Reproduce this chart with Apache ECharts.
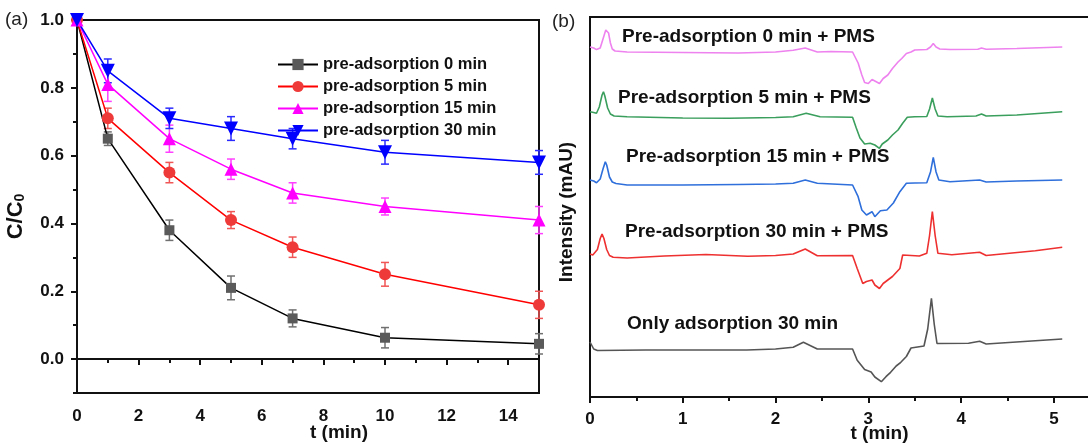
<!DOCTYPE html>
<html>
<head>
<meta charset="utf-8">
<title>Pre-adsorption</title>
<script src="https://cdn.jsdelivr.net/npm/echarts@6/dist/echarts.min.js"></script>
<style>
  html, body { margin: 0; padding: 0; background: #fff; }
  .echart_1 { width: 1088px; height: 448px; }
</style>
</head>
<body>
<div class="echart_1"></div>
<script>
// (a) C/C0 vs time
var times = [0, 1, 3, 5, 7, 10, 15];
var seriesNames = ['pre-adsorption 0 min', 'pre-adsorption 5 min', 'pre-adsorption 15 min', 'pre-adsorption 30 min'];
var pre0 = [1.0, 0.65, 0.38, 0.21, 0.12, 0.063, 0.045];
var pre0Err = [0, 0.02, 0.03, 0.035, 0.025, 0.03, 0.03];
var pre5 = [1.0, 0.71, 0.55, 0.41, 0.33, 0.25, 0.16];
var pre5Err = [0, 0.03, 0.03, 0.025, 0.03, 0.035, 0.04];
var pre15 = [1.0, 0.81, 0.65, 0.56, 0.49, 0.45, 0.41];
var pre15Err = [0, 0.05, 0.04, 0.03, 0.03, 0.025, 0.04];
var pre30 = [1.0, 0.85, 0.71, 0.68, 0.65, 0.61, 0.58];
var pre30Err = [0, 0.035, 0.03, 0.035, 0.03, 0.035, 0.035];

var aXTicks = [0, 2, 4, 6, 8, 10, 12, 14];
var aXMinor = [1, 3, 5, 7, 9, 11, 13, 15];
var aYTicks = [0, 0.2, 0.4, 0.6, 0.8, 1.0];
var aYMinor = [-0.1, 0.1, 0.3, 0.5, 0.7, 0.9];

// (b) chromatograms: [t (min), signal above own baseline]
var traceNames = ['Pre-adsorption 0 min + PMS', 'Pre-adsorption 5 min + PMS', 'Pre-adsorption 15 min + PMS', 'Pre-adsorption 30 min + PMS', 'Only adsorption 30 min'];
var traceOffsets = [345, 280, 213, 141.5, 48];
var trace0 = [[0, 5], [0.04, 4], [0.07, 2.4], [0.11, 4], [0.14, 13], [0.17, 22], [0.185, 23.4], [0.2, 19], [0.22, 9], [0.24, 3], [0.27, 1], [0.4, 0], [1.0, -0.5], [1.6, -1], [2.0, 0], [2.19, 1.7], [2.32, 4], [2.45, 0], [2.6, 0.5], [2.83, 0], [2.89, -11], [2.93, -23], [2.96, -30.5], [3.0, -31.5], [3.04, -27.5], [3.09, -30], [3.12, -31.5], [3.16, -26.5], [3.21, -23], [3.26, -16.5], [3.32, -10], [3.36, -6.5], [3.41, -1.5], [3.46, 0], [3.5, 2], [3.63, 2.5], [3.67, 5], [3.7, 8.4], [3.73, 5], [3.77, 3], [3.88, 2.5], [4.18, 2.7], [4.22, 4], [4.27, 2.7], [4.6, 3.5], [5.09, 5]];
var trace5 = [[0, 5.3], [0.04, 4.5], [0.07, 3.7], [0.1, 10], [0.13, 22], [0.145, 25.3], [0.16, 21], [0.19, 9], [0.22, 3], [0.26, 1], [0.4, 0.3], [1.0, -1], [1.5, -1.3], [2.0, -0.5], [2.19, 0.3], [2.33, 3.7], [2.48, 0.3], [2.83, -0.3], [2.87, -11], [2.91, -21], [2.96, -27], [3.02, -26.3], [3.07, -28], [3.12, -31.3], [3.15, -27], [3.21, -23], [3.26, -18], [3.32, -13], [3.37, -6.3], [3.42, -0.3], [3.5, 0.3], [3.63, 0.5], [3.66, 8], [3.69, 19], [3.72, 8], [3.75, 1], [3.85, 0.3], [4.16, 1], [4.22, 3], [4.27, 1], [4.6, 2], [5.09, 5.3]];
var trace15 = [[0, 4], [0.04, 3], [0.07, 1.3], [0.11, 5], [0.14, 15], [0.165, 22.3], [0.18, 19], [0.21, 7], [0.24, 2], [0.28, 0.5], [0.4, -1], [1.0, -1], [1.6, -0.5], [2.0, 0], [2.19, 0.7], [2.32, 4], [2.45, 0.7], [2.83, -1], [2.89, -12.7], [2.93, -26], [2.98, -31], [3.04, -27.7], [3.07, -32.7], [3.13, -26.7], [3.2, -26], [3.27, -19], [3.34, -7.7], [3.41, 0.7], [3.5, 1], [3.63, 1.3], [3.67, 12], [3.7, 26.7], [3.73, 12], [3.76, 4], [3.88, 2.3], [4.2, 4], [4.27, 2], [4.6, 3], [5.09, 4]];
var trace30 = [[0, 1.5], [0.03, 0.5], [0.05, -0.2], [0.08, 6], [0.11, 17], [0.13, 21.5], [0.15, 17], [0.18, 6], [0.21, 0], [0.25, -1.8], [0.4, -2.5], [0.8, -0.5], [1.25, 1], [1.7, -0.8], [2.0, 0], [2.19, 1.5], [2.32, 6.5], [2.45, -0.2], [2.83, 0], [2.88, -13], [2.94, -28], [2.98, -26], [3.04, -24.5], [3.07, -29.5], [3.12, -33], [3.16, -28], [3.21, -24.5], [3.26, -21], [3.34, -13], [3.37, 0.5], [3.55, -0.5], [3.63, 2.2], [3.66, 20], [3.69, 43.8], [3.72, 20], [3.75, 2.2], [3.9, 0.8], [4.2, 3.2], [4.27, 0], [4.8, 4.8], [5.09, 8.2]];
var traceOnly = [[0, 7], [0.02, 5], [0.04, 0], [0.08, -1.5], [0.6, -1], [1.1, -1], [1.69, -1], [2.0, 0], [2.19, 1.7], [2.3, 6.7], [2.45, 0], [2.83, 0], [2.88, -11.3], [2.96, -20.5], [3.03, -23], [3.07, -28], [3.14, -32.7], [3.19, -27.7], [3.24, -23.3], [3.3, -17], [3.35, -13.3], [3.41, -7.5], [3.46, 1], [3.6, 3], [3.64, 20], [3.68, 50.7], [3.71, 25], [3.74, 5.5], [4.08, 5.7], [4.2, 7.7], [4.27, 5], [4.8, 8.3], [5.09, 10]];

var bXTicks = [0, 1, 2, 3, 4, 5];
var bXMinor = [0.5, 1.5, 2.5, 3.5, 4.5];

var font = '"Liberation Sans", Arial, sans-serif';
var echart_1 = echarts.init(document.querySelector('.echart_1'));

var aValues = [pre0, pre5, pre15, pre30];
var aErrors = [pre0Err, pre5Err, pre15Err, pre30Err];
var lineColors = ['#000000', '#ff0000', '#ff00ff', '#0000ff'];
var markColors = ['#5a5a5a', '#ef3a3a', '#ff00ff', '#0000ff'];
var errColors = ['#707070', '#f05656', '#ff40ff', '#2a2aff'];
var symbols = ['rect', 'circle', 'triangle', 'triangle'];
var symbolSizes = [10, 12, 13, 14];
var symbolRotates = [0, 0, 0, 180];
var traces = [trace0, trace5, trace15, trace30, traceOnly];
var traceColors = ['#ee82ee', '#3a9e5c', '#2e6fdb', '#ee3030', '#555555'];

function errorBar(color) {
  return function (params, api) {
    var x = api.value(0), y = api.value(1), e = api.value(2);
    var top = api.coord([x, y + e]);
    var bottom = api.coord([x, y - e]);
    var style = { stroke: color, lineWidth: 1.5 };
    return {
      type: 'group',
      children: [
        { type: 'line', shape: { x1: top[0], y1: top[1], x2: bottom[0], y2: bottom[1] }, style: style },
        { type: 'line', shape: { x1: top[0] - 4, y1: top[1], x2: top[0] + 4, y2: top[1] }, style: style },
        { type: 'line', shape: { x1: bottom[0] - 4, y1: bottom[1], x2: bottom[0] + 4, y2: bottom[1] }, style: style }
      ]
    };
  };
}

var series = [];
aValues.forEach(function (vals, k) {
  series.push({
    name: 'err' + k,
    type: 'custom',
    xAxisIndex: 0,
    yAxisIndex: 0,
    renderItem: errorBar(errColors[k]),
    encode: { x: 0, y: 1 },
    z: 2,
    data: times.map(function (t, i) { return [t, vals[i], aErrors[k][i]]; })
  });
});
aValues.forEach(function (vals, k) {
  series.push({
    name: seriesNames[k],
    type: 'line',
    xAxisIndex: 0,
    yAxisIndex: 0,
    symbol: symbols[k],
    symbolSize: symbolSizes[k],
    symbolRotate: symbolRotates[k],
    z: 3,
    lineStyle: { color: lineColors[k], width: 1.5 },
    itemStyle: { color: markColors[k] },
    data: times.map(function (t, i) { return [t, vals[i]]; })
  });
});
traces.forEach(function (tr, k) {
  series.push({
    name: traceNames[k],
    type: 'line',
    xAxisIndex: 2,
    yAxisIndex: 2,
    showSymbol: false,
    lineStyle: { color: traceColors[k], width: 1.6 },
    itemStyle: { color: traceColors[k] },
    data: tr.map(function (p) { return [p[0], p[1] + traceOffsets[k]]; })
  });
});

var labelTops = [37, 98, 157, 232, 324];
var labelLefts = [622, 618, 626, 625, 627];
var graphics = [
  { type: 'text', x: 5, y: 20, style: { text: '(a)', font: '19px ' + font, fill: '#222', textVerticalAlign: 'middle', verticalAlign: 'middle' } },
  { type: 'text', x: 552, y: 22, style: { text: '(b)', font: '19px ' + font, fill: '#222', textVerticalAlign: 'middle', verticalAlign: 'middle' } }
];
traceNames.forEach(function (n, k) {
  graphics.push({ type: 'text', x: labelLefts[k], y: labelTops[k], style: { text: n, font: 'bold 19px ' + font, fill: '#111', textVerticalAlign: 'middle', verticalAlign: 'middle' } });
});

var tickLabel = { fontSize: 17, fontWeight: 'bold', fontFamily: font, color: '#111' };
var nameStyle = { fontSize: 19, fontWeight: 'bold', fontFamily: font, color: '#111' };
var axisLine = { show: true, lineStyle: { color: '#111', width: 2 } };

var option = {
  animation: false,
  backgroundColor: '#fff',
  grid: [
    { left: 77, top: 20, width: 462, height: 373, outerBoundsMode: 'none', containLabel: false, show: true, borderColor: '#111', borderWidth: 2 },
    { left: 590, top: 17, width: 501, height: 380, outerBoundsMode: 'none', containLabel: false, show: true, borderColor: '#111', borderWidth: 2 }
  ],
  legend: {
    data: seriesNames,
    orient: 'vertical',
    left: 272,
    top: 51,
    itemWidth: 40,
    itemHeight: 14,
    itemGap: 5,
    textStyle: { fontSize: 16.5, fontWeight: 'bold', fontFamily: font, color: '#111', lineHeight: 17 }
  },
  xAxis: [
    {
      gridIndex: 0, type: 'value', min: 0, max: 15,
      name: 't (min)', nameLocation: 'middle', nameGap: 30, nameMoveOverlap: false,
      nameTextStyle: Object.assign({ padding: [0, 0, 0, 62] }, nameStyle),
      axisLine: axisLine,
      axisTick: { customValues: aXTicks, length: 6, lineStyle: { color: '#111', width: 2 } },
      axisLabel: Object.assign({ customValues: aXTicks, margin: 15 }, tickLabel),
      splitLine: { show: false }
    },
    {
      gridIndex: 0, type: 'value', min: 0, max: 15, position: 'bottom',
      axisLine: { show: false },
      axisTick: { customValues: aXMinor, length: 4, lineStyle: { color: '#111', width: 2 } },
      axisLabel: { show: false },
      splitLine: { show: false }
    },
    {
      gridIndex: 1, type: 'value', min: 0, max: 5.4,
      name: 't (min)', nameLocation: 'middle', nameGap: 27, nameMoveOverlap: false,
      nameTextStyle: Object.assign({ padding: [0, 0, 0, 78] }, nameStyle),
      axisLine: axisLine,
      axisTick: { customValues: bXTicks, length: 6, lineStyle: { color: '#111', width: 2 } },
      axisLabel: Object.assign({ customValues: bXTicks, margin: 14 }, tickLabel),
      splitLine: { show: false }
    },
    {
      gridIndex: 1, type: 'value', min: 0, max: 5.4, position: 'bottom',
      axisLine: { show: false },
      axisTick: { customValues: bXMinor, length: 4, lineStyle: { color: '#111', width: 2 } },
      axisLabel: { show: false },
      splitLine: { show: false }
    }
  ],
  yAxis: [
    {
      gridIndex: 0, type: 'value', min: -0.1, max: 1.0,
      name: 'C/C{sub|0}', nameLocation: 'middle', nameGap: 50, nameRotate: 90, nameMoveOverlap: false,
      nameTextStyle: Object.assign({ padding: [0, 20, 0, 0], rich: { sub: { fontSize: 14, fontWeight: 'bold', fontFamily: font, padding: [9, 0, 0, 0] } } }, nameStyle, { fontSize: 22 }),
      axisLine: axisLine,
      axisTick: { customValues: aYTicks, length: 6, lineStyle: { color: '#111', width: 2 } },
      axisLabel: Object.assign({ customValues: aYTicks, margin: 13, formatter: function (v) { return v.toFixed(1); } }, tickLabel),
      splitLine: { show: false }
    },
    {
      gridIndex: 0, type: 'value', min: -0.1, max: 1.0, position: 'left',
      axisLine: { show: false },
      axisTick: { customValues: aYMinor, length: 4, lineStyle: { color: '#111', width: 2 } },
      axisLabel: { show: false },
      splitLine: { show: false }
    },
    {
      gridIndex: 1, type: 'value', min: 0, max: 380,
      name: 'Intensity (mAU)', nameLocation: 'middle', nameGap: 14, nameRotate: 90, nameMoveOverlap: false,
      nameTextStyle: Object.assign({ padding: [0, 10, 0, 0] }, nameStyle),
      axisLine: axisLine,
      axisTick: { show: false },
      axisLabel: { show: false },
      splitLine: { show: false }
    }
  ],
  graphic: graphics,
  series: series
};

echart_1.setOption(option);
</script>
</body>
</html>
